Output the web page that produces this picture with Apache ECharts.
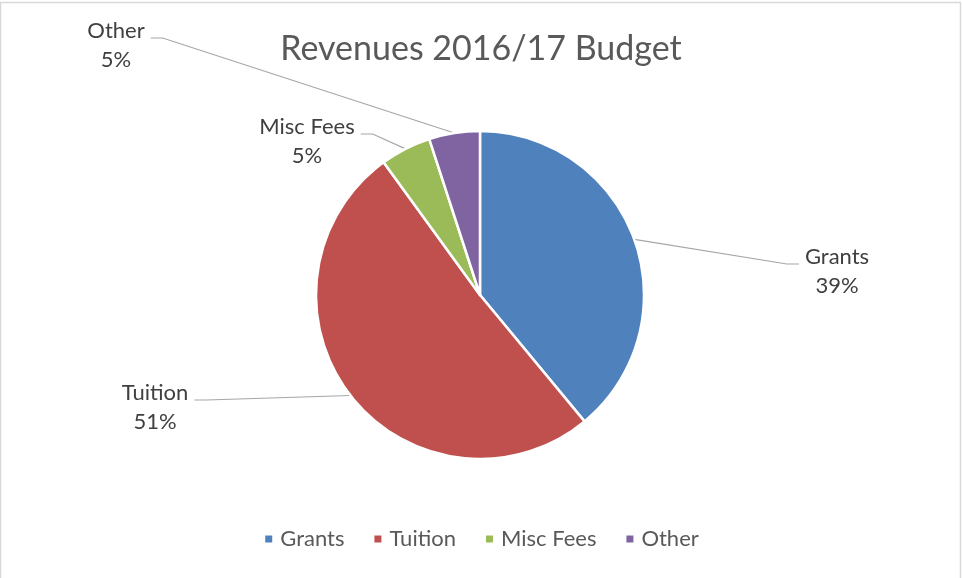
<!DOCTYPE html>
<html>
<head>
<meta charset="utf-8">
<script src="https://cdn.jsdelivr.net/npm/echarts@6/dist/echarts.min.js"></script>
<style>
html,body{margin:0;padding:0;background:#fff;}
#chart{width:962px;height:578px;}
</style>
</head>
<body>
<div id="chart"></div>
<script>
const categories = ['Grants', 'Tuition', 'Misc Fees', 'Other'];
const values = [39, 51, 5, 5];
const colors = ['#4f81bd', '#c0504d', '#9bbb59', '#8064a2'];
const titleText = 'Revenues 2016/17 Budget';
// label placement (centre x, y of label box)
const labelSpots = [[837, 262], [155, 398], [307, 132], [116, 36]];

const FONT = 'Lato';
const chart = echarts.init(document.getElementById('chart'), null, {renderer: 'canvas'});
chart.setOption({
  animation: false,
  backgroundColor: '#ffffff',
  color: colors,
  title: {
    text: titleText,
    left: 'center',
    top: 27,
    textStyle: {fontFamily: FONT, fontSize: 34, fontWeight: 'normal', color: '#595959'}
  },
  legend: {
    data: categories,
    bottom: 23,
    left: 'center',
    icon: 'rect',
    itemWidth: 9,
    itemHeight: 9,
    itemGap: 28,
    textStyle: {fontFamily: FONT, fontSize: 22, color: '#595959', padding: [0, 0, 0, 2]}
  },
  graphic: [{
    type: 'rect',
    shape: {x: 0.5, y: 2.5, width: 960, height: 620},
    style: {fill: 'none', stroke: '#d9d9d9', lineWidth: 1.5},
    silent: true,
    z: 100
  }],
  series: [{
    type: 'pie',
    center: [480, 295],
    radius: 164,
    startAngle: 90,
    clockwise: true,
    avoidLabelOverlap: false,
    emphasis: {disabled: true},
    itemStyle: {borderColor: '#ffffff', borderWidth: 2.5},
    label: {
      show: true,
      formatter: p => '{pad| }\n{t|' + p.name + '}\n{t|' + Math.round(p.percent) + '%}',
      align: 'center',
      rich: {
        pad: {fontSize: 4, lineHeight: 19},
        t: {fontFamily: FONT, fontSize: 22, lineHeight: 29, color: '#404040', padding: [0, 6]}
      }
    },
    labelLine: {
      show: true,
      length: 10,
      length2: 12,
      smooth: false,
      lineStyle: {color: '#a6a6a6', width: 1.2}
    },
    labelLayout: function (params) {
      const s = labelSpots[params.dataIndex];
      return {x: s[0], y: s[1], align: 'center', verticalAlign: 'middle'};
    },
    data: categories.map((c, i) => ({name: c, value: values[i]}))
  }]
});
</script>
</body>
</html>
